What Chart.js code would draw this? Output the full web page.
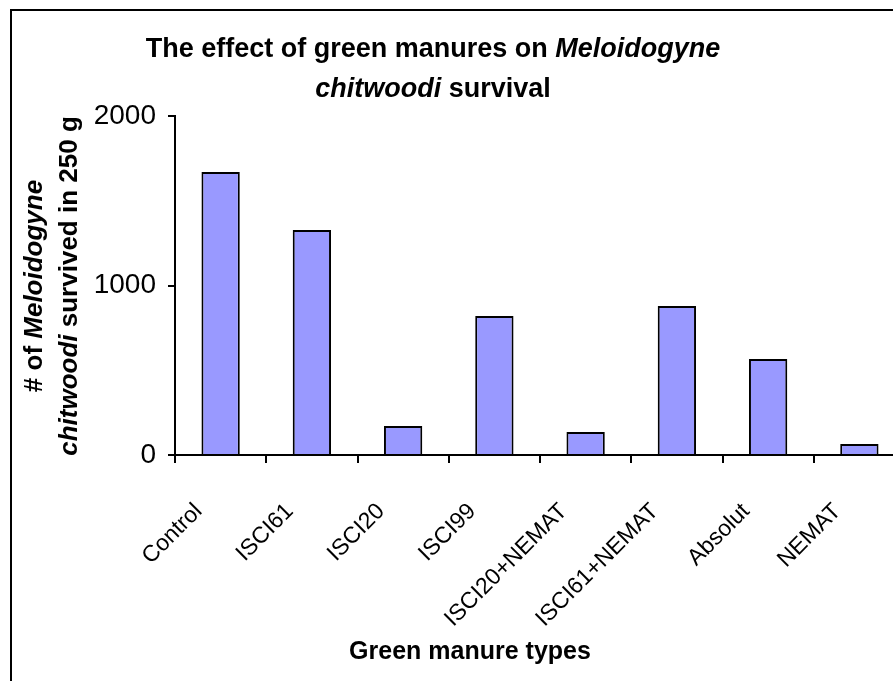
<!DOCTYPE html>
<html>
<head>
<meta charset="utf-8">
<script src="https://cdn.jsdelivr.net/npm/chart.js@4.4.1/dist/chart.umd.min.js"></script>
<style>
  html, body { margin: 0; padding: 0; background: #fff; overflow: hidden; }
  #wrap { position: absolute; left: 0; top: 0; }
</style>
</head>
<body>
<div id="wrap"><canvas id="myChart" width="930" height="700"></canvas></div>
<script>
// data
const categories = ["Control", "ISCI61", "ISCI20", "ISCI99", "ISCI20+NEMAT", "ISCI61+NEMAT", "Absolut", "NEMAT"];
const survived = [1670, 1327, 171, 820, 136, 879, 566, 65];
const yTicks = [0, 1000, 2000];

// text pieces, [text, italic]
const titleLines = [
  [["The effect of green manures on ", false], ["Meloidogyne", true]],
  [["chitwoodi", true], [" survival", false]],
];
const yTitleLines = [
  [["# of ", false], ["Meloidogyne", true]],
  [["chitwoodi", true], [" survived in 250 g", false]],
];
const xTitle = [["Green manure types", false]];

const FONT = "'Liberation Sans', Arial, sans-serif";

function drawRich(ctx, parts, x, y, size) {
  let widths = parts.map(p => {
    ctx.font = (p[1] ? "italic " : "") + "bold " + size + "px " + FONT;
    return ctx.measureText(p[0]).width;
  });
  let total = widths.reduce((a, b) => a + b, 0);
  let cx = x - total / 2;
  ctx.textAlign = "left";
  ctx.textBaseline = "alphabetic";
  parts.forEach((p, i) => {
    ctx.font = (p[1] ? "italic " : "") + "bold " + size + "px " + FONT;
    ctx.fillText(p[0], cx, y);
    cx += widths[i];
  });
}

const textPlugin = {
  id: "texts",
  beforeDraw(chart) {
    const ctx = chart.ctx;
    ctx.save();
    ctx.fillStyle = "#fff";
    ctx.fillRect(0, 0, chart.width, chart.height);
    ctx.restore();
  },
  afterDraw(chart) {
    const ctx = chart.ctx;
    ctx.save();
    // frame
    ctx.strokeStyle = "#000";
    ctx.lineWidth = 2;
    ctx.strokeRect(11, 10, chart.width + 20, chart.height + 20);
    ctx.fillStyle = "#000";
    drawRich(ctx, titleLines[0], 433, 57, 27);
    drawRich(ctx, titleLines[1], 433, 97, 27);
    drawRich(ctx, xTitle, 470, 659, 25);
    ctx.translate(0, 286);
    ctx.rotate(-Math.PI / 2);
    drawRich(ctx, yTitleLines[0], 0, 42, 26);
    drawRich(ctx, yTitleLines[1], 0, 77, 26);
    ctx.restore();
  },
};

function charter() {
  const ctx = document.getElementById("myChart");
  new Chart(ctx, {
    type: "bar",
    data: {
      labels: categories,
      datasets: [{
        data: survived,
        backgroundColor: "#9999FF",
        borderColor: "#000",
        borderWidth: 2,
        categoryPercentage: 1,
        barPercentage: 0.42,
      }],
    },
    options: {
      responsive: false,
      animation: false,
      layout: { padding: { top: 116, left: 0, right: 25, bottom: 0 } },
      plugins: { legend: { display: false }, tooltip: { enabled: false }, title: { display: false } },
      scales: {
        y: {
          min: 0,
          max: 2000,
          afterFit: (s) => { s.width = 175; },
          afterBuildTicks: (s) => { s.ticks = yTicks.map(v => ({ value: v })); },
          ticks: {
            font: { family: FONT, size: 28 },
            color: "#000",
            padding: 12,
            callback: (v) => String(v),
          },
          grid: { drawOnChartArea: false, color: "#000", lineWidth: 2, tickLength: 7 },
          border: { color: "#000", width: 2 },
        },
        x: {
          afterFit: (s) => { s.height = 245; },
          ticks: {
            font: { family: FONT, size: 23 },
            color: "#000",
            minRotation: 45,
            maxRotation: 45,
            autoSkip: false,
            padding: 35,
            labelOffset: -22,
          },
          grid: { offset: true, drawOnChartArea: false, color: "#000", lineWidth: 2, tickLength: 8 },
          border: { color: "#000", width: 2 },
        },
      },
    },
    plugins: [textPlugin],
  });
}

window.onload = charter;
</script>
</body>
</html>
